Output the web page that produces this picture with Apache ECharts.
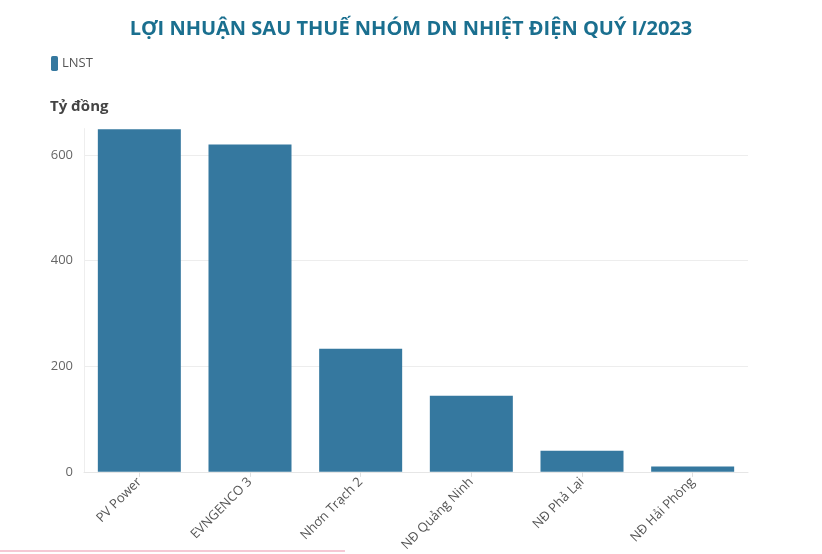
<!DOCTYPE html>
<html>
<head>
<meta charset="utf-8">
<script src="https://cdn.jsdelivr.net/npm/echarts@6/dist/echarts.min.js"></script>
<style>
html,body{margin:0;padding:0;background:#fff;}
#chart{width:822px;height:554px;}
</style>
</head>
<body>
<div id="chart"></div>
<script>
const categories = ["PV Power", "EVNGENCO 3", "Nhơn Trạch 2", "NĐ Quảng Ninh", "NĐ Phả Lại", "NĐ Hải Phòng"];
const lnst = [649, 620, 233, 144, 40, 10];
const seriesName = "LNST";
const titleText = "LỢI NHUẬN SAU THUẾ NHÓM DN NHIỆT ĐIỆN QUÝ I/2023";
const unitLabel = "Tỷ đồng";

const chart = echarts.init(document.getElementById('chart'), null, {renderer: 'canvas'});
const FONT = '"Open Sans", "Noto Sans", sans-serif';
chart.setOption({
  animation: false,
  backgroundColor: '#ffffff',
  textStyle: {fontFamily: FONT},
  title: {
    text: titleText,
    left: 'center',
    top: 14,
    textStyle: {fontFamily: FONT, fontSize: 20, fontWeight: 'bold', color: '#1a6f8f'}
  },
  legend: {
    left: 46,
    top: 51,
    itemWidth: 7,
    itemHeight: 15,
    itemGap: 4,
    icon: 'roundRect',
    textStyle: {fontFamily: FONT, fontSize: 13, color: '#555', padding: [0, 0, 0, -1]},
    data: [seriesName]
  },
  graphic: [
    {type: 'text', left: 50, top: 99, style: {text: unitLabel, font: 'bold 15px ' + FONT, fill: '#444'}},
    {type: 'rect', shape: {x: 0, y: 550, width: 345, height: 2}, style: {fill: '#f5c8d4'}}
  ],
  grid: {left: 84, right: 74, top: 128.6, bottom: 81.7, containLabel: false},
  xAxis: {
    type: 'category',
    data: categories,
    axisLine: {show: true, lineStyle: {color: '#e6e6e6'}},
    axisTick: {show: true, alignWithLabel: true, length: 5, lineStyle: {color: '#e0e0e0'}},
    axisLabel: {rotate: 45, fontSize: 13, color: '#555', fontFamily: FONT, margin: 8, interval: 0}
  },
  yAxis: {
    type: 'value',
    min: 0,
    max: 650,
    interval: 200,
    axisLine: {show: true, lineStyle: {color: '#eeeeee'}},
    axisTick: {show: false},
    axisLabel: {fontSize: 13, color: '#666', fontFamily: FONT, margin: 11, showMaxLabel: false},
    splitLine: {show: true, lineStyle: {color: ['#ededed', '#ededed', '#ededed', '#ededed', 'rgba(0,0,0,0)']}}
  },
  series: [{
    name: seriesName,
    type: 'bar',
    data: lnst,
    barCategoryGap: '25%',
    itemStyle: {color: '#35789f'}
  }]
});
</script>
</body>
</html>
